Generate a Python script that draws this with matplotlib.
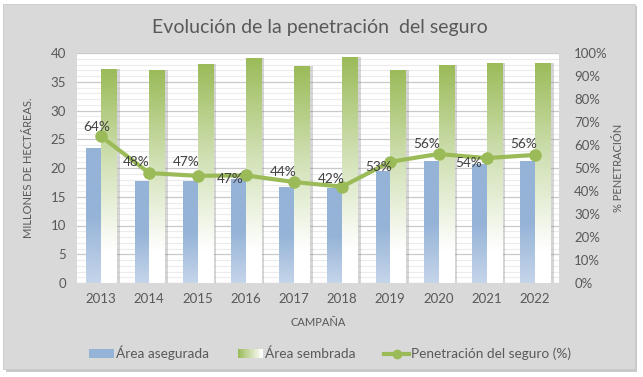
import numpy as np
import matplotlib
matplotlib.use("Agg")
import matplotlib.pyplot as plt
from matplotlib.patches import Rectangle
from matplotlib.lines import Line2D
from matplotlib.legend_handler import HandlerBase
from matplotlib.colors import LinearSegmentedColormap

# datos
campanas = ["2013", "2014", "2015", "2016", "2017", "2018", "2019", "2020", "2021", "2022"]
area_asegurada = [23.5, 17.7, 17.7, 18.1, 16.75, 16.5, 19.5, 21.2, 20.7, 21.2]
area_sembrada = [37.2, 37.0, 38.1, 39.1, 37.7, 39.3, 37.0, 37.9, 38.3, 38.3]
penetracion = [0.637, 0.478, 0.466, 0.468, 0.439, 0.419, 0.527, 0.561, 0.543, 0.557]
# desplazamiento de las etiquetas (px) respecto al punto
etq_dx = [-4, -13, -11, -15, -11, -11, -12, -12, -18, -11]
etq_dy = [9, 11, 14, -4, 10, 8, -5, 10, -5, 11]

gris_texto = "#595959"
verde = "#9bbb59"
azul_arriba = "#95b3d7"
azul_abajo = "#c5d5ea"
fondo = "#d9d9d9"

plt.rcParams["font.family"] = ["Lato", "DejaVu Sans"]

fig = plt.figure(figsize=(6.43, 3.77), dpi=100)
fig.patch.set_facecolor("white")
W, H = 643, 377

# fondo gris con sombra
sombra = Rectangle((6 / W, 1 - 372 / H), 631 / W, 366 / H, transform=fig.transFigure,
                   facecolor="#a6a6a6", edgecolor="none", alpha=0.6, zorder=-3)
caja = Rectangle((3 / W, 1 - 369 / H), 632 / W, 365 / H, transform=fig.transFigure,
                 facecolor=fondo, edgecolor="#c8c8c8", linewidth=0.6, zorder=-2)
fig.patches.extend([sombra, caja])

ax = fig.add_axes([77 / W, 1 - 283 / H, 482 / W, 230 / H])
ax.set_facecolor("white")
ax2 = ax.twinx()
ax2.patch.set_visible(False)

x = np.arange(len(campanas))

# rejilla
ax.set_yticks(np.arange(0, 41, 5))
ax.set_yticks(np.arange(0, 41, 1), minor=True)
ax.grid(which="minor", axis="y", color="#ececec", linewidth=0.8)
ax.grid(which="major", axis="y", color="#c9c9c9", linewidth=0.9)
ax.set_axisbelow(True)

cmap_azul = LinearSegmentedColormap.from_list("azul", [azul_abajo, azul_arriba, azul_arriba])
cmap_verde = LinearSegmentedColormap.from_list(
    "verde", [(0, "white"), (0.15, "white"), (0.55, "#d3e2b8"), (1, verde)])

w_azul = 0.305
w_verde = 0.32

# sombra barras verdes
ax.bar(x + 0.02, area_sembrada, width=w_verde + 0.05, align="edge",
       color="#8c8c8c", alpha=0.35, zorder=1.5)

barras_azul = ax.bar(x - w_azul, area_asegurada, width=w_azul, align="edge",
                     color="none", zorder=2)
barras_verde = ax.bar(x, area_sembrada, width=w_verde, align="edge",
                      color="none", zorder=2)

grad = np.linspace(0, 1, 256).reshape(-1, 1)
for barras, cmap in ((barras_azul, cmap_azul), (barras_verde, cmap_verde)):
    for b in barras:
        x0, w, h = b.get_x(), b.get_width(), b.get_height()
        im = ax.imshow(grad, cmap=cmap, origin="lower", aspect="auto",
                       extent=[x0, x0 + w, 0, h], zorder=2, interpolation="bicubic")
        im.set_clip_path(b)

ax.set_xlim(-0.5, len(campanas) - 0.5)
ax.set_ylim(0, 40)
ax2.set_ylim(0, 1)

ax2.plot(x, penetracion, color=verde, linewidth=3, marker="o", markersize=8,
         solid_capstyle="round", zorder=5)
for i, p in enumerate(penetracion):
    ax2.annotate(f"{p * 100:.0f}%", (x[i], p), xytext=(etq_dx[i] * 0.72, etq_dy[i] * 0.72),
                 textcoords="offset points", ha="center", va="center",
                 fontsize=9.8, color="#404040", zorder=6)

ax2.set_yticks(np.arange(0, 1.01, 0.1))
ax2.set_yticklabels([f"{v}%" for v in range(0, 101, 10)])

ax.set_xticks(x)
ax.set_xticklabels(campanas)
for a in (ax, ax2):
    for s in a.spines.values():
        s.set_visible(False)
    a.tick_params(length=0, labelsize=9.5, labelcolor=gris_texto, which="both")
ax.tick_params(axis="x", pad=7)
ax.tick_params(axis="y", pad=8)
ax2.tick_params(axis="y", pad=11)

ax.set_xlabel("CAMPAÑA", fontsize=8, color=gris_texto, labelpad=9)
ax.set_ylabel("MILLONES DE HECTÁREAS.", fontsize=8, color=gris_texto, labelpad=12)
ax2.set_ylabel("% PENETRACIÓN", fontsize=8, color=gris_texto, rotation=90, labelpad=4)

fig.text(320 / W, 1 - 27 / H, "Evolución de la penetración  del seguro", ha="center",
         va="center", fontsize=14, color=gris_texto)


# leyenda
class HandlerGradiente(HandlerBase):
    def __init__(self, cmap):
        super().__init__()
        self.cmap = cmap

    def create_artists(self, legend, orig_handle, xdescent, ydescent, width, height, fontsize, trans):
        n = 20
        arts = []
        for k in range(n):
            r = Rectangle((-xdescent + width * k / n, -ydescent), width / n + 0.3, height,
                          facecolor=self.cmap(1 - k / (n - 1)), edgecolor="none", transform=trans)
            arts.append(r)
        return arts


h_azul = Rectangle((0, 0), 1, 1, facecolor=azul_arriba)
h_verde = Rectangle((0, 0), 1, 1, facecolor=verde)
h_linea = Line2D([], [], color=verde, linewidth=3, marker="o", markersize=6)
cmap_leg = LinearSegmentedColormap.from_list("leg", ["white", verde])
fig.legend([h_azul, h_verde, h_linea],
           ["Área asegurada", "Área sembrada", "Penetración del seguro (%)"],
           handler_map={h_verde: HandlerGradiente(cmap_leg)},
           loc="center", bbox_to_anchor=(330 / W, 1 - 353 / H), ncol=3, frameon=False,
           fontsize=9.8, labelcolor=gris_texto, handlelength=1.85, handletextpad=0.15,
           columnspacing=2.1, handleheight=0.6)

fig.savefig("out.png", dpi=100, facecolor=fig.get_facecolor())
